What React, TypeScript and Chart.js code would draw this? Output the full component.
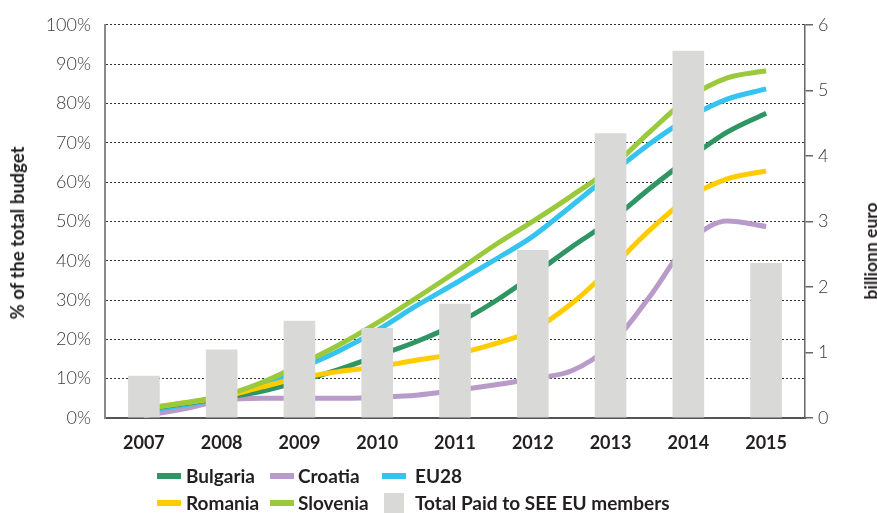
import React, { useEffect, useRef } from "react";
import { Chart, registerables } from "chart.js";

Chart.register(...registerables);

const FONT = "Lato, 'Open Sans', sans-serif";

const years = [2007, 2008, 2009, 2010, 2011, 2012, 2013, 2014, 2015];
const totalPaid = [0.64, 1.04, 1.48, 1.37, 1.74, 2.56, 4.34, 5.6, 2.36];

const timePoints = [2007, 2007.5, 2008, 2008.5, 2009, 2009.5, 2010, 2010.5, 2011, 2011.5, 2012, 2012.5, 2013, 2013.5, 2014, 2014.5, 2015];
const bulgaria = [2.2, 3.6, 5.0, 6.7, 9.3, 12.3, 15.8, 19.4, 23.8, 29.5, 36.3, 43.5, 50.2, 58.3, 65.9, 72.7, 77.5];
const croatia = [0.6, 2.3, 4.4, 5.0, 5.0, 5.0, 5.3, 5.8, 7.0, 8.4, 10.0, 12.0, 18.5, 30.8, 44.5, 50.1, 48.7];
const eu28 = [1.6, 3.3, 5.0, 7.9, 12.5, 17.0, 22.3, 28.5, 34.2, 40.1, 46.2, 54.0, 62.0, 69.7, 76.3, 81.1, 83.7];
const romania = [2.4, 3.8, 5.3, 7.8, 10.2, 11.8, 13.0, 14.7, 16.3, 18.8, 22.3, 29.1, 38.0, 47.7, 56.0, 60.8, 62.8];
const slovenia = [2.3, 3.8, 5.6, 8.9, 13.5, 18.5, 24.2, 30.5, 37.0, 43.8, 50.0, 56.5, 63.5, 72.7, 81.3, 86.5, 88.3];

const leftTicks = [0, 10, 20, 30, 40, 50, 60, 70, 80, 90, 100];
const rightTicks = [0, 1, 2, 3, 4, 5, 6];

const leftTitle = "% of the total budget";
const rightTitle = "billionn euro";

const COLORS = {
  bulgaria: "#2e9563",
  croatia: "#b99bc9",
  eu28: "#35c3ef",
  romania: "#ffcc00",
  slovenia: "#9ac93c",
  bars: "#d9d9d7",
};

const legendItems = [
  { label: "Bulgaria", color: COLORS.bulgaria, kind: "line", x: 157, tx: 186, y: 476 },
  { label: "Croatia", color: COLORS.croatia, kind: "line", x: 270, tx: 298, y: 476 },
  { label: "EU28", color: COLORS.eu28, kind: "line", x: 382, tx: 415, y: 476 },
  { label: "Romania", color: COLORS.romania, kind: "line", x: 157, tx: 186, y: 503 },
  { label: "Slovenia", color: COLORS.slovenia, kind: "line", x: 270, tx: 298, y: 503 },
  { label: "Total Paid to SEE EU members", color: COLORS.bars, kind: "box", x: 384, tx: 415, y: 503 },
];

function lineSet(label: string, values: number[], color: string, order: number) {
  return {
    type: "line" as const,
    label,
    data: values.map((v, i) => ({ x: timePoints[i], y: v })),
    xAxisID: "x",
    yAxisID: "y",
    borderColor: color,
    backgroundColor: color,
    borderWidth: 5,
    pointRadius: 0,
    fill: false,
    cubicInterpolationMode: "monotone" as const,
    order,
  };
}

export default function App() {
  const ref = useRef<HTMLCanvasElement | null>(null);

  useEffect(() => {
    if (!ref.current) return;
    const chart = new Chart(ref.current, {
      type: "bar",
      data: {
        datasets: [
          {
            type: "bar",
            label: "Total Paid to SEE EU members",
            data: years.map((yr, i) => ({ x: yr, y: totalPaid[i] })),
            xAxisID: "x",
            yAxisID: "y1",
            backgroundColor: COLORS.bars,
            barThickness: 31,
            order: 0,
          } as any,
          lineSet("Slovenia", slovenia, COLORS.slovenia, 1),
          lineSet("Romania", romania, COLORS.romania, 2),
          lineSet("Bulgaria", bulgaria, COLORS.bulgaria, 3),
          lineSet("EU28", eu28, COLORS.eu28, 4),
          lineSet("Croatia", croatia, COLORS.croatia, 5),
        ],
      },
      options: {
        responsive: false,
        animation: false,
        devicePixelRatio: 1,
        layout: { padding: { left: 0, right: 0, top: 24, bottom: 0 } },
        plugins: { legend: { display: false }, tooltip: { enabled: false } },
        scales: {
          x: {
            type: "linear",
            offset: false,
            position: "bottom",
            min: 2006.5,
            max: 2015.5,
            afterBuildTicks: (s: any) => { s.ticks = years.map((v) => ({ value: v })); },
            grid: { display: false, drawTicks: false, offset: false },
            border: { display: true, color: "#555", width: 2 },
            ticks: {
              padding: 14,
              color: "#231f20",
              autoSkip: false,
              maxRotation: 0,
              font: { family: FONT, size: 18, weight: "bold" },
              callback: (v: any) => String(v),
            },
            afterFit: (s: any) => { s.height = 95; },
          },
          y: {
            type: "linear",
            position: "left",
            min: 0,
            max: 100,
            afterBuildTicks: (s: any) => { s.ticks = leftTicks.map((v) => ({ value: v })); },
            ticks: {
              padding: 14,
              color: "#3a3a3a",
              font: { family: FONT, size: 18, weight: "300" },
              callback: (v: any) => v + "%",
            },
            grid: {
              drawTicks: false,
              color: (c: any) => (c.tick && c.tick.value === 0 ? "rgba(0,0,0,0)" : "#333"),
              lineWidth: 1,
            },
            border: { display: true, color: "#8a8a8a", width: 2, dash: [2, 2] },
            afterFit: (s: any) => { s.width = 105; },
          },
          y1: {
            type: "linear",
            position: "right",
            min: 0,
            max: 6,
            afterBuildTicks: (s: any) => { s.ticks = rightTicks.map((v) => ({ value: v })); },
            ticks: {
              padding: 5,
              color: "#3a3a3a",
              font: { family: FONT, size: 18, weight: "300" },
            },
            grid: { drawOnChartArea: false, drawTicks: true, tickLength: 8, color: "#666", lineWidth: 1.5 },
            border: { display: true, color: "#666", width: 1.5 },
            afterFit: (s: any) => { s.width = 72; },
          },
        },
      } as any,
    });
    return () => chart.destroy();
  }, []);

  const titleStyle: React.CSSProperties = {
    position: "absolute",
    fontFamily: FONT,
    fontWeight: 700,
    fontSize: 18.5,
    color: "#231f20",
    whiteSpace: "nowrap",
    lineHeight: "20px",
    transform: "translate(-50%, -50%) rotate(-90deg)",
  };

  return (
    <div style={{ position: "absolute", left: 0, top: 0, width: 877, height: 513, background: "#fff", overflow: "hidden" }}>
      <canvas ref={ref} width={877} height={513} style={{ position: "absolute", left: 0, top: 0, width: 877, height: 513 }} />
      <div style={{ ...titleStyle, left: 17, top: 233 }}>{leftTitle}</div>
      <div style={{ ...titleStyle, left: 871, top: 251, fontSize: 17.5 }}>{rightTitle}</div>
      {legendItems.map((it) => (
        <React.Fragment key={it.label}>
          {it.kind === "line" ? (
            <div style={{ position: "absolute", left: it.x, top: it.y - 3, width: 24, height: 6, background: it.color }} />
          ) : (
            <div style={{ position: "absolute", left: it.x, top: it.y - 10, width: 20, height: 20, background: it.color }} />
          )}
          <div
            style={{
              position: "absolute",
              left: it.tx,
              top: it.y - 12,
              lineHeight: "24px",
              fontFamily: FONT,
              fontWeight: 700,
              fontSize: 19,
              color: "#231f20",
              whiteSpace: "nowrap",
            }}
          >
            {it.label}
          </div>
        </React.Fragment>
      ))}
    </div>
  );
}
